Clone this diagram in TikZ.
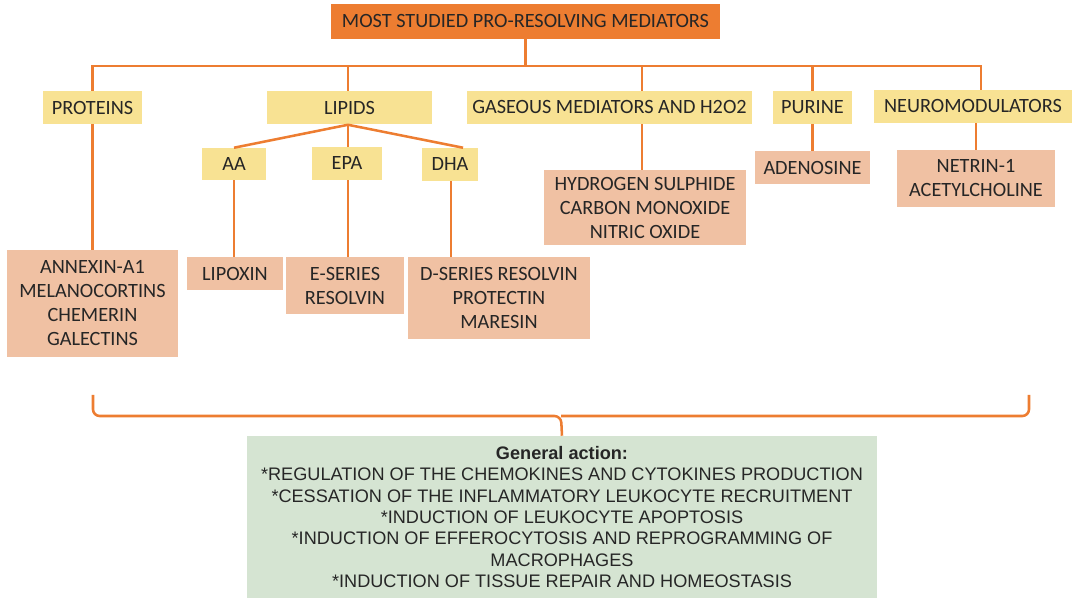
\documentclass[tikz,border=0pt]{standalone}
\usepackage{fontspec}
\setmainfont{Carlito}
\newfontfamily\arialf{Liberation Sans}
\usetikzlibrary{calc}
\definecolor{orng}{HTML}{ED7D31}
\definecolor{yel}{HTML}{F8E293}
\definecolor{sal}{HTML}{F0C1A3}
\definecolor{grn}{HTML}{D5E4D2}
\definecolor{txt}{HTML}{262626}
\tikzset{
  box/.style={inner sep=0pt, align=center, text=txt, font=\fontsize{15.2}{18}\selectfont},
  topbox/.style={box, fill=orng},
  catbox/.style={box, fill=yel},
  itembox/.style={box, fill=sal},
  actbox/.style={inner sep=0pt, align=center, fill=grn, text=txt, font=\arialf\fontsize{13.6}{16.1}\selectfont},
  link/.style={draw=orng, line width=1.9pt},
  sz/.style 2 args={minimum width=#1*0.75pt, minimum height=#2*0.75pt}
}
\begin{document}
\begin{tikzpicture}[x=0.75pt,y=-0.75pt]
\useasboundingbox (0,0) rectangle (1075,598);
% nodes
\node[topbox, sz={389}{35}] (top) at (525.5,21.5) {MOST STUDIED PRO-RESOLVING MEDIATORS};
\node[catbox, sz={99}{33}] (prot) at (92.5,107.5) {PROTEINS};
\node[catbox, sz={165}{33}] (lip) at (349.5,108) {LIPIDS};
\node[catbox, sz={285}{33}] (gas) at (609.5,107.5) {GASEOUS MEDIATORS AND H2O2};
\node[catbox, sz={79}{33}] (pur) at (812.5,107.5) {PURINE};
\node[catbox, sz={198}{33}] (neu) at (973,106.5) {NEUROMODULATORS};
\node[catbox, sz={64}{32}] (aa) at (234,164) {AA};
\node[catbox, sz={70}{33}] (epa) at (347,163.5) {EPA};
\node[catbox, sz={56}{33}] (dha) at (450,164.5) {DHA};
\node[itembox, sz={96}{33}] (lipox) at (235,273.5) {LIPOXIN};
\node[itembox, sz={118}{57}] (eser) at (345,285.5) {E-SERIES\\RESOLVIN};
\node[itembox, sz={182}{82}] (dser) at (499,298) {D-SERIES RESOLVIN\\PROTECTIN\\MARESIN};
\node[itembox, sz={171}{107}] (annex) at (92.5,303.5) {ANNEXIN-A1\\MELANOCORTINS\\CHEMERIN\\GALECTINS};
\node[itembox, sz={202}{75}] (hyd) at (645,207.5) {HYDROGEN SULPHIDE\\CARBON MONOXIDE\\NITRIC OXIDE};
\node[itembox, sz={115}{33}] (ade) at (812.5,167.5) {ADENOSINE};
\node[itembox, sz={158}{57}] (net) at (976,178.5) {NETRIN-1\\ACETYLCHOLINE};
\node[actbox, sz={630}{162}] (act) at (562,517) {\textbf{General action:}\\*REGULATION OF THE CHEMOKINES AND CYTOKINES PRODUCTION\\*CESSATION OF THE INFLAMMATORY LEUKOCYTE RECRUITMENT\\*INDUCTION OF LEUKOCYTE APOPTOSIS\\*INDUCTION OF EFFEROCYTOSIS AND REPROGRAMMING OF\\MACROPHAGES\\*INDUCTION OF TISSUE REPAIR AND HOMEOSTASIS};
% bus
\coordinate (bus) at (0,66);
\coordinate (nt) at ($(neu.north)+(8,0)$);
\coordinate (lt) at ($(lip.north)+(-1.5,0)$);
\coordinate (ls) at ($(lip.south)+(-1.5,0)$);
\draw[link] (top.south) -- (top.south |- bus);
\draw[link] (prot.north) |- (nt |- bus) -- (nt);
\draw[link] (lt |- bus) -- (lt);
\draw[link] ($(gas.north |- bus)+(32.5,0)$) -- ($(gas.north)+(32.5,0)$);
\draw[link] (pur.north |- bus) -- (pur.north);
% lipids
\draw[link] (ls) -- (aa.north);
\draw[link] (ls) -- (ls |- epa.north);
\draw[link] (ls) -- ($(dha.north)+(13,0)$);
% children
\draw[link] (prot.south) -- (prot.south |- annex.north);
\draw[link] (aa.south) -- (aa.south |- lipox.north);
\draw[link] ($(epa.south)+(1,0)$) -- ($(epa.south |- eser.north)+(1,0)$);
\draw[link] ($(dha.south)+(1,0)$) -- ($(dha.south |- dser.north)+(1,0)$);
\draw[link] ($(hyd.north |- gas.south)+(-3,0)$) -- ($(hyd.north)+(-3,0)$);
\draw[link] (pur.south) -- (pur.south |- ade.north);
\draw[link] (neu.south -| net.north) -- (net.north);
% brace
\draw[link, rounded corners=5pt] (93,395) -- (93,416) -- (561,416) -- (act.north);
\draw[link, rounded corners=5pt] (1029,395) -- (1029,416) -- (561,416);
\end{tikzpicture}
\end{document}
